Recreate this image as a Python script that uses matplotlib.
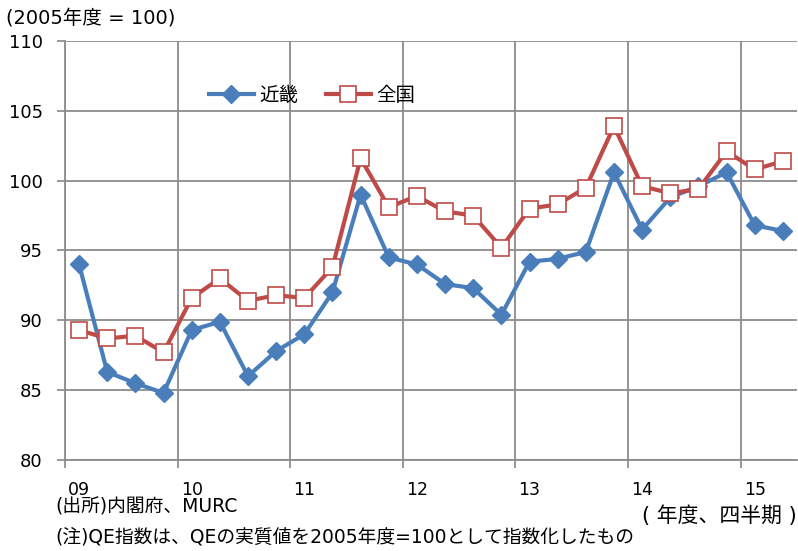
import matplotlib.pyplot as plt
import numpy as np

plt.rcParams['font.family'] = ['DejaVu Sans', 'Noto Sans CJK JP']

years = ["09", "10", "11", "12", "13", "14", "15"]
kinki = [94.0, 86.3, 85.5, 84.8, 89.3, 89.9, 86.0, 87.8, 89.0, 92.0,
         99.0, 94.5, 94.0, 92.6, 92.3, 90.4, 94.2, 94.4, 94.9, 100.6,
         96.5, 98.8, 99.6, 100.6, 96.8, 96.4]
zenkoku = [89.3, 88.7, 88.9, 87.7, 91.6, 93.0, 91.4, 91.8, 91.6, 93.8,
           101.6, 98.1, 98.9, 97.8, 97.5, 95.2, 98.0, 98.3, 99.5, 103.9,
           99.6, 99.1, 99.4, 102.1, 100.8, 101.4]

x = np.arange(len(kinki)) + 0.5

fig = plt.figure(figsize=(7.98, 5.51), dpi=100)
ax = fig.add_axes([65 / 798, 1 - 460 / 551, 732 / 798, 419 / 551])

ax.plot(x, kinki, color='#4A7EBB', lw=3, marker='D', ms=9,
        mfc='#4A7EBB', mec='#4A7EBB', label='近畿', zorder=3)
ax.plot(x, zenkoku, color='#BE4B48', lw=3, marker='s', ms=11,
        mfc='white', mec='#BE4B48', mew=1.2, label='全国', zorder=4)

ax.set_xlim(0, len(kinki))
ax.set_ylim(80, 110)
ax.set_yticks(np.arange(80, 111, 5))
ax.set_xticks(np.arange(0, len(kinki), 4))
ax.set_xticklabels([])
ax.set_xticks(np.arange(0, len(kinki), 4) + 0.5, minor=True)
ax.set_xticklabels(years, minor=True)
ax.tick_params(axis='x', which='minor', length=0, pad=15, labelsize=12.5)
ax.tick_params(axis='x', which='major', length=6, color='#888888', width=1.2)
ax.tick_params(axis='y', length=6, color='#888888', width=1.2, labelsize=13, pad=10)

ax.grid(True, which='major', color='#8c8c8c', lw=1.3)
for s in ['top', 'right']:
    ax.spines[s].set_visible(False)
for s in ['left', 'bottom']:
    ax.spines[s].set_color('#8c8c8c')
    ax.spines[s].set_linewidth(1.3)

leg = ax.legend(loc='upper left', bbox_to_anchor=(0.173, 0.935), ncol=2,
                frameon=False, fontsize=14, handlelength=2.3,
                columnspacing=1.4, handletextpad=0.3)

fig.text(6 / 798, 1 - 18 / 551, '(2005年度 = 100)', fontsize=14, va='center')
fig.text(55 / 798, 1 - 507 / 551, '(出所)内閣府、MURC', fontsize=13.5, va='center')
fig.text(55 / 798, 1 - 537 / 551, '(注)QE指数は、QEの実質値を2005年度=100として指数化したもの',
         fontsize=13.5, va='center')
fig.text(797 / 798, 1 - 516 / 551, '( 年度、四半期 )', fontsize=15, va='center', ha='right')

fig.savefig('out.png', dpi=100)
